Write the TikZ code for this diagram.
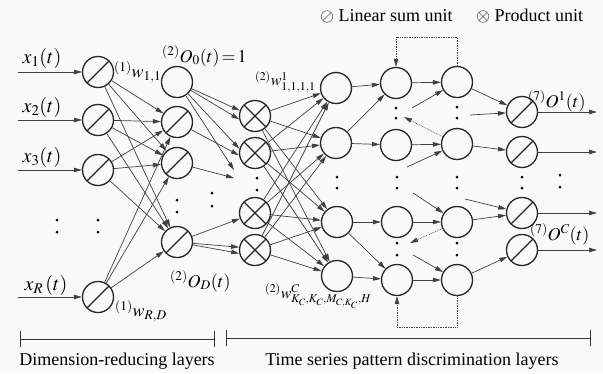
\documentclass[tikz,border=0pt]{standalone}
\usepackage{mathptmx}
\usepackage{fontspec}
\setmainfont{Liberation Serif}
\usetikzlibrary{arrows.meta}
\begin{document}
\begin{tikzpicture}[x=1pt,y=-1pt,
  unit/.style={circle,draw=black!85,line width=1.3pt,minimum size=31pt,inner sep=0pt},
  lin/.style={unit,path picture={\draw[line width=1.3pt,black!85] (path picture bounding box.south west)--(path picture bounding box.north east);}},
  prod/.style={unit,path picture={\draw[line width=1.3pt,black!85] (path picture bounding box.south west)--(path picture bounding box.north east) (path picture bounding box.north west)--(path picture bounding box.south east);}},
  conn/.style={draw=black!75,line width=0.7pt,-{Triangle[length=8pt,width=4.5pt]}},
  fb/.style={conn,densely dotted},
  dot/.style={circle,fill=black,inner sep=0pt,minimum size=3pt},
  lbl/.style={inner sep=0pt,font=\fontsize{18}{20}\selectfont},
  slbl/.style={inner sep=0pt,font=\fontsize{16}{18}\selectfont},
  xlbl/.style={inner sep=0pt,font=\fontsize{20}{22}\selectfont},
  txt/.style={inner sep=0pt,font=\fontsize{18}{20}\selectfont},
  bar/.style={line width=0.9pt,draw=black!80}
]
\useasboundingbox (0,0) rectangle (603,373);
\fill[gray!5] (0,0) rectangle (603,373);
% layer 1
\node[lin] (a1) at (98,72) {};
\node[lin] (a2) at (98,120) {};
\node[lin] (a3) at (98,170) {};
\node[lin] (aR) at (98,297) {};
% layer 2
\node[unit] (b0) at (177,82) {};
\node[lin] (b1) at (177,122) {};
\node[lin] (b2) at (177,163) {};
\node[lin] (bD) at (177,242) {};
% layer 3
\node[prod] (p1) at (255,116) {};
\node[prod] (p2) at (255,153) {};
\node[prod] (p3) at (255,213) {};
\node[prod] (p4) at (255,250) {};
% layer 4
\node[unit] (q1) at (336,88) {};
\node[unit] (q2) at (336,143) {};
\node[unit] (q3) at (337,222) {};
\node[unit] (q4) at (337,276) {};
% layer 5
\node[unit] (r1) at (396,83) {};
\node[unit] (r2) at (396,145) {};
\node[unit] (r3) at (397,222) {};
\node[unit] (r4) at (397,280) {};
% layer 6
\node[unit] (s1) at (457,82) {};
\node[unit] (s2) at (457,144) {};
\node[unit] (s3) at (457,222) {};
\node[unit] (s4) at (457,280) {};
% layer 7
\node[lin] (o1) at (522,112) {};
\node[lin] (o2) at (522,152) {};
\node[lin] (o3) at (522,213) {};
\node[lin] (o4) at (522,250) {};
% inputs
\coordinate (i1) at (18,72);
\coordinate (i2) at (18,120);
\coordinate (i3) at (18,170);
\coordinate (iR) at (18,297);
\draw[conn] (i1) -- (a1);
\draw[conn] (i2) -- (a2);
\draw[conn] (i3) -- (a3);
\draw[conn] (iR) -- (aR);
% layer 1 -> 2
\foreach \a in {a1,a2,a3,aR}
  \foreach \b in {b1,b2,bD}
    \draw[conn] (\a) -- (\b);
% layer 2 -> 3
\coordinate (dA1) at (234,170);
\coordinate (dA2) at (234,178);
\draw[conn] (b0) -- (p1.160);
\draw[conn] (b0) -- (p1.192);
\draw[conn] (b0) -- (p2.165);
\draw[conn] (b1) -- (p2.188);
\draw[conn] (b0) -- (dA1);
\draw[conn] (b2) -- (dA2);
\draw[conn] (bD) -- (p3);
\draw[conn] (bD) -- (p4.170);
\draw[conn] (bD) -- (p4.192);
% layer 3 -> 4
\foreach \p in {p1,p2,p3,p4}
  \foreach \q in {q1,q2,q3,q4}
    \draw[conn] (\p) -- (\q);
% layer 4 -> 5
\draw[conn] (q1) -- (r1);
\draw[conn] (q2) -- (r1);
\draw[conn] (q2) -- (r2);
\draw[conn] (q3) -- (r3);
\draw[conn] (q3) -- (r4);
\draw[conn] (q4) -- (r4);
% layer 5 -> 6
\draw[conn] (r1) -- (s1);
\draw[conn] (r2) -- (s2);
\draw[conn] (r3) -- (s3);
\draw[conn] (r4) -- (s4);
\coordinate (e1) at (412,108);
\coordinate (e2) at (407,167);
\coordinate (e3) at (413,193);
\coordinate (e4) at (413,255);
\draw[conn] (e1) -- (s1);
\draw[conn] (e2) -- (s2);
\draw[conn] (e3) -- (s3);
\draw[conn] (e4) -- (s4);
\coordinate (f1) at (404,117);
\coordinate (f2) at (410,243);
\draw[fb] (s2) -- (f1);
\draw[fb] (s3) -- (f2);
\coordinate (t1) at (457,37);
\coordinate (t2) at (396,37);
\draw[fb] (s1.north) -- (t1) -- (t2) -- (r1.north);
\coordinate (u1) at (457,327);
\coordinate (u2) at (397,327);
\draw[fb] (s4.south) -- (u1) -- (u2) -- (r4.south);
% layer 6 -> 7
\coordinate (g1) at (470,115);
\coordinate (g3) at (465,199);
\draw[conn] (s1) -- (o1);
\draw[conn] (g1) -- (o1);
\draw[conn] (s2) -- (o2);
\draw[conn] (s3) -- (o3);
\draw[conn] (g3) -- (o3);
\draw[conn] (s4) -- (o4);
% outputs
\coordinate (y1) at (597,112);
\coordinate (y2) at (597,152);
\coordinate (y3) at (597,213);
\coordinate (y4) at (597,250);
\draw[conn] (o1) -- (y1);
\draw[conn] (o2) -- (y2);
\draw[conn] (o3) -- (y3);
\draw[conn] (o4) -- (y4);
% dots
\foreach \x/\y in {57/220,57/232,98/220,98/232,177/200,177/212,212/193,212/206,257/178,257/190,337/177,337/188,
  396/108,396/118,397/177,397/188,397/243,397/255,457/107,457/118,457/177,457/188,457/243,457/255,
  522/177,522/188,560/175,560/187}
  \node[dot] at (\x,\y) {};
% labels
\node[xlbl] (lx1) at (42,58) {$x_1(t)$};
\node[xlbl] (lx2) at (42,107) {$x_2(t)$};
\node[xlbl] (lx3) at (42,157) {$x_3(t)$};
\node[xlbl] (lxR) at (46,285) {$x_R\,(t)$};
\node[lbl,anchor=west] (lw11) at (114,72) {$^{(1)}w_{1{,}1}$};
\node[lbl,anchor=west] (lO0) at (162,56) {$^{(2)}O_0(t)\!=\!1$};
\node[slbl,anchor=west] (lw1111) at (255,82) {$^{(2)}w^1_{1{,}1{,}1{,}1}$};
\node[lbl,anchor=west] (lOD) at (170,281) {$^{(2)}O_D(t)$};
\node[lbl,anchor=west] (lwRD) at (115,311) {$^{(1)}w_{R{,}D}$};
\node[slbl,anchor=west] (lwC) at (265,296) {$^{(2)}w^C_{K_C{,}K_C{,}M_{C{,}K_C}{,}H}$};
\node[lbl,anchor=west] (lO1) at (528,101) {$^{(7)}O^1(t)$};
\node[lbl,anchor=west] (lOC) at (530,234) {$^{(7)}O^C(t)$};
% legend
\node[txt,anchor=west] (leg1) at (320,16) {$\oslash$ Linear sum unit};
\node[txt,anchor=west] (leg2) at (476,16) {$\otimes$ Product unit};
% bars
\draw[bar] (20,331) -- (20,347) (20,339) -- (214,339) (214,331) -- (214,347);
\draw[bar] (226,330) -- (226,346) (226,338) -- (590,338) (590,330) -- (590,346);
\node[txt] (cap1) at (117,361) {Dimension-reducing layers};
\node[txt] (cap2) at (412,361) {Time series pattern discrimination layers};
\end{tikzpicture}
\end{document}
